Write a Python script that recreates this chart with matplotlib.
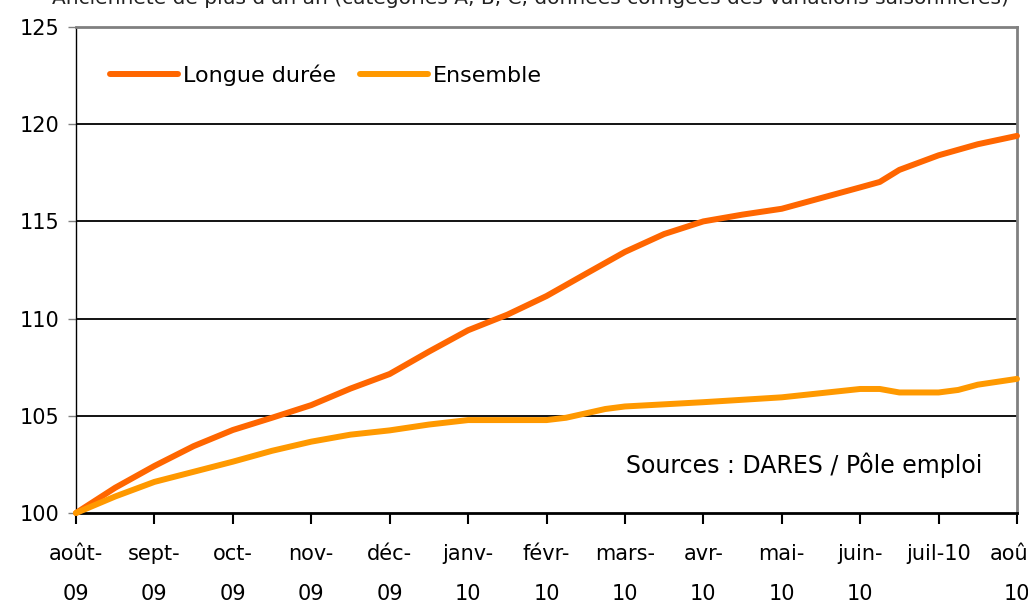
import matplotlib
matplotlib.use("Agg")
import matplotlib.pyplot as plt

# ---- data ----
month_labels = ['août-\n09', 'sept-\n09', 'oct-\n09', 'nov-\n09', 'déc-\n09',
                'janv-\n10', 'févr-\n10', 'mars-\n10', 'avr-\n10', 'mai-\n10',
                'juin-\n10', 'juil-10', 'août-\n10']

# position in months since August 2009
longue_x = [0, 0.5, 1, 1.5, 2, 2.5, 3, 3.5, 4, 4.5, 5, 5.5, 6, 6.5, 7, 7.5,
            8, 8.5, 9, 9.5, 10, 10.25, 10.5, 11, 11.5, 12]
longue_y = [100, 101.3, 102.42, 103.44, 104.27, 104.9, 105.55, 106.4, 107.15,
            108.3, 109.4, 110.2, 111.16, 112.3, 113.43, 114.35, 115.0, 115.35,
            115.65, 116.2, 116.75, 117.03, 117.65, 118.4, 118.97, 119.4]

ensemble_x = [0, 0.5, 1, 1.5, 2, 2.5, 3, 3.5, 4, 4.5, 5, 5.5, 6, 6.25, 6.75,
              7, 8, 9, 10, 10.25, 10.5, 11, 11.25, 11.5, 12]
ensemble_y = [100, 100.85, 101.6, 102.12, 102.64, 103.2, 103.67, 104.03, 104.25,
              104.55, 104.78, 104.78, 104.78, 104.9, 105.35, 105.48, 105.7,
              105.95, 106.38, 106.38, 106.2, 106.2, 106.33, 106.6, 106.9]

y_ticks = [100, 105, 110, 115, 120, 125]

# ---- figure ----
fig = plt.figure(figsize=(10.28, 6.06), dpi=100)
ax = fig.add_axes([76/1028, 1-513/606, (1017-76)/1028, (513-27)/606])

for yv in y_ticks[1:-1]:
    ax.axhline(yv, color='black', lw=1.3, zorder=1)

ax.plot(longue_x, longue_y, color='#FF6600', lw=4.3, solid_capstyle='round',
        solid_joinstyle='round', clip_on=False, zorder=3, label='Longue durée')
ax.plot(ensemble_x, ensemble_y, color='#FF9900', lw=4.3, solid_capstyle='round',
        solid_joinstyle='round', clip_on=False, zorder=3, label='Ensemble')

ax.set_xlim(0, 12)
ax.set_ylim(100, 125)
ax.set_yticks(y_ticks)
ax.set_yticklabels([str(v) for v in y_ticks])
ax.set_xticks(range(len(month_labels)))
ax.set_xticklabels(month_labels, linespacing=2.3)

for lab in ax.get_xticklabels():
    lab.set_fontsize(15)
for lab in ax.get_yticklabels():
    lab.set_fontsize(15)

ax.tick_params(axis='x', direction='out', length=8, width=1.5, color='black', pad=14)
ax.tick_params(axis='y', direction='out', length=6, width=1.0, color='#808080', pad=6)

ax.spines['left'].set_color('black')
ax.spines['left'].set_linewidth(1.0)
ax.spines['bottom'].set_color('black')
ax.spines['bottom'].set_linewidth(2.0)
ax.spines['top'].set_color('#808080')
ax.spines['top'].set_linewidth(2.0)
ax.spines['right'].set_color('#808080')
ax.spines['right'].set_linewidth(2.0)

leg = ax.legend(loc='center left', bbox_to_anchor=(0.036, 1 - 48/486), ncol=2,
                frameon=False, fontsize=16, handlelength=3.05, handletextpad=0.22,
                columnspacing=1.1, borderaxespad=0, borderpad=0)

ax.text(0.585, 0.099, 'Sources : DARES / Pôle emploi', transform=ax.transAxes,
        fontsize=17, ha='left', va='center')

fig.text(530/1028, 1-4/606,
         "Ancienneté de plus d'un an (catégories A, B, C, données corrigées des variations saisonnières)",
         ha='center', va='baseline', fontsize=14.5, color='#222222')

fig.savefig('out.png', dpi=100)
